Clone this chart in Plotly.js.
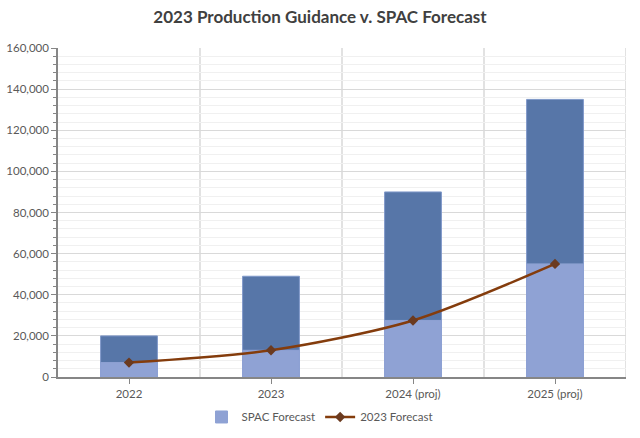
<!DOCTYPE html>
<html>
<head>
<meta charset="utf-8">
<script src="https://cdn.plot.ly/plotly-3.0.1.min.js"></script>
<style>
  body { margin: 0; background: #fff; }
  #chart { width: 640px; height: 438px; }
</style>
</head>
<body>
<div id="chart"></div>
<script>
const years = ['2022', '2023', '2024 (proj)', '2025 (proj)']
const spacTotal = [20000, 49000, 90000, 135000]
const spacLower = [7000, 13000, 27500, 55000]
const forecast2023 = [7000, 13000, 27500, 55000]

const darkBar = {
  x: years,
  y: spacTotal,
  type: 'bar',
  name: 'SPAC Forecast',
  showlegend: false,
  marker: { color: '#5776a8', line: { color: '#7f98c9', width: 1 } },
  width: 0.4,
  hoverinfo: 'y',
}

const lightBar = {
  x: years,
  y: spacLower,
  type: 'bar',
  name: 'SPAC Forecast',
  marker: { color: '#8fa2d4', line: { color: '#8fa2d4', width: 1 } },
  width: 0.4,
  hoverinfo: 'y',
}

const line = {
  x: years,
  y: forecast2023,
  type: 'scatter',
  mode: 'lines+markers',
  name: '2023 Forecast',
  line: { color: '#843c0c', width: 2.5, shape: 'spline', smoothing: 0.8 },
  marker: { symbol: 'diamond', size: 8, color: '#6b3a1f' },
}

// vertical grid lines between the categories
const gridShapes = [0.5, 1.5, 2.5, 3.5].map(x => ({
  type: 'line',
  xref: 'x', yref: 'paper',
  x0: x, x1: x, y0: 0, y1: 1,
  line: { color: '#d9d9d9', width: 1.5 },
  layer: 'below',
}))

const layout = {
  width: 640,
  height: 438,
  margin: { t: 48, b: 61, l: 58, r: 14 },
  paper_bgcolor: '#ffffff',
  plot_bgcolor: '#ffffff',
  font: { family: 'Lato, "Open Sans", sans-serif', size: 11.5, color: '#595959' },
  title: {
    text: '<b>2023 Production Guidance v. SPAC Forecast</b>',
    font: { size: 17, color: '#404040', family: 'Lato, "Open Sans", sans-serif' },
    x: 0.5, xanchor: 'center',
    y: 0.96, yanchor: 'middle',
  },
  barmode: 'overlay',
  showlegend: true,
  legend: {
    orientation: 'h',
    xref: 'container', yref: 'container',
    x: 0.5, xanchor: 'center',
    y: 0.048, yanchor: 'middle',
    font: { size: 11.5, color: '#595959' },
    traceorder: 'normal',
    itemwidth: 30,
  },
  xaxis: {
    type: 'category',
    range: [-0.5, 3.5],
    showgrid: false,
    showline: true,
    linecolor: '#868686',
    linewidth: 1.5,
    ticks: 'outside',
    ticklen: 5,
    tickcolor: '#868686',
    tickfont: { size: 11.5, color: '#595959' },
    fixedrange: true,
  },
  yaxis: {
    range: [0, 160000],
    dtick: 20000,
    tickformat: ',d',
    showgrid: true,
    gridcolor: '#d9d9d9',
    gridwidth: 1,
    showline: true,
    linecolor: '#868686',
    linewidth: 1.5,
    ticks: 'outside',
    ticklen: 5,
    tickcolor: '#868686',
    zeroline: false,
    minor: {
      dtick: 4000,
      showgrid: true,
      gridcolor: '#f0f0f0',
      ticks: 'outside',
      ticklen: 3,
      tickcolor: '#868686',
    },
    tickfont: { size: 11.5, color: '#595959' },
    fixedrange: true,
  },
  shapes: gridShapes,
}

Plotly.newPlot('chart', [darkBar, lightBar, line], layout, { responsive: false, displayModeBar: false })
</script>
</body>
</html>
